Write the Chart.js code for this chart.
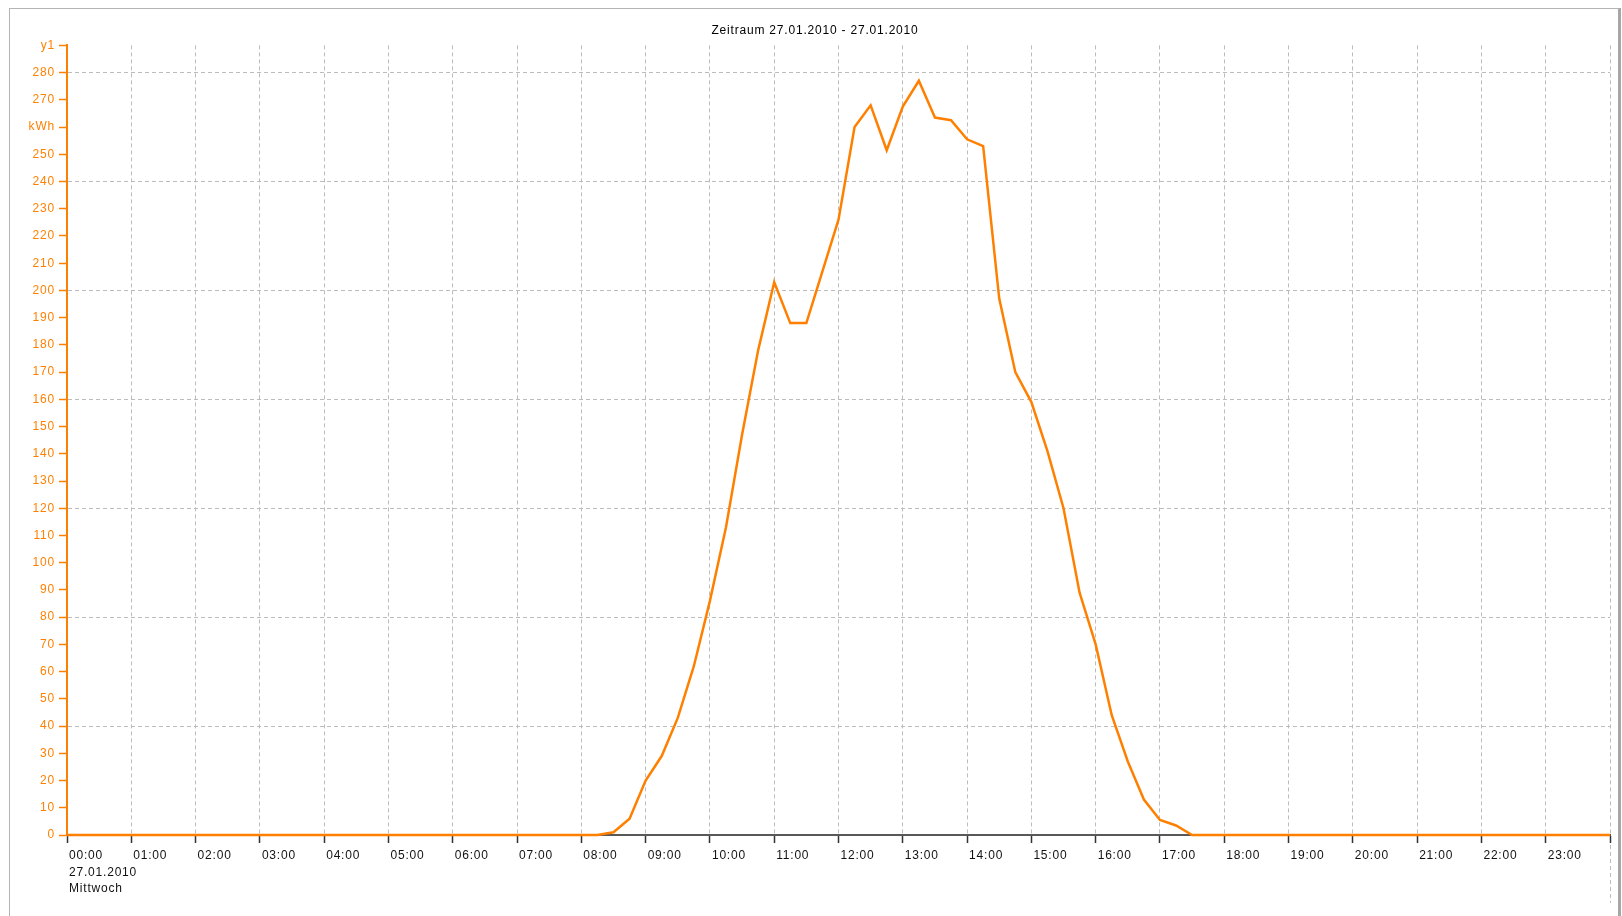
<!DOCTYPE html>
<html>
<head>
<meta charset="utf-8">
<title>Zeitraum 27.01.2010 - 27.01.2010</title>
<script src="https://cdn.jsdelivr.net/npm/chart.js@4.4.1/dist/chart.umd.min.js"></script>
<style>
  html, body { margin: 0; padding: 0; background: #fff; overflow: hidden; }
  #frame {
    position: absolute; left: 9px; top: 8px; width: 1608px; height: 1000px;
    border: 1px solid #b4b4b4; border-right: 3px solid #a6a6a6;
  }
  #chart { position: absolute; left: 0; top: 0; }
</style>
</head>
<body>
<div id="frame"></div>
<canvas id="chart" width="1622" height="916"></canvas>
<script>
// quarter-hour readings, zero outside the production window
const times = [
  '00:00', '08:15', '08:30', '08:45',
  '09:00', '09:15', '09:30', '09:45',
  '10:00', '10:15', '10:30', '10:45',
  '11:00', '11:15', '11:30', '11:45',
  '12:00', '12:15', '12:30', '12:45',
  '13:00', '13:15', '13:30', '13:45',
  '14:00', '14:15', '14:30', '14:45',
  '15:00', '15:15', '15:30', '15:45',
  '16:00', '16:15', '16:30', '16:45',
  '17:00', '17:15', '17:30', '24:00'
];
const energy = [
  0, 0, 1, 6,
  20, 29, 43, 62,
  86, 113, 147, 178,
  203, 188, 188, 207,
  226, 260, 268, 251.5,
  267.5, 277, 263.5, 262.5,
  255.5, 253, 197, 170,
  159, 141, 120, 89,
  70, 44, 27, 13,
  5.5, 3.5, 0, 0
];
const hourLabels = [
  '00:00', '01:00', '02:00', '03:00', '04:00', '05:00', '06:00', '07:00',
  '08:00', '09:00', '10:00', '11:00', '12:00', '13:00', '14:00', '15:00',
  '16:00', '17:00', '18:00', '19:00', '20:00', '21:00', '22:00', '23:00'
];
const dateLines = ['27.01.2010', 'Mittwoch'];
const yTickNames = { 260: 'kWh', 290: 'y1' };
const chartTitle = 'Zeitraum 27.01.2010 - 27.01.2010';

const orange = '#ff8000';
const gridGray = '#bcbcbc';
const dash = [4, 3];

function toHours(t) {
  const [h, m] = t.split(':');
  return Number(h) + Number(m) / 60;
}
const points = times.map((t, i) => ({ x: toHours(t), y: energy[i] }));

Chart.defaults.font.family = '"Liberation Sans", Arial, sans-serif';
Chart.defaults.font.size = 12;

// the old chart engine spaced its letters a bit wider
const spacing = {
  id: 'spacing',
  beforeLayout(chart) { chart.ctx.letterSpacing = '0.8px'; },
  beforeDraw(chart) { chart.ctx.letterSpacing = '0.8px'; }
};

// last hour line runs down past the axis
const endLine = {
  id: 'endLine',
  afterDraw(chart) {
    const { ctx, chartArea, scales } = chart;
    const x = Math.round(scales.x.getPixelForValue(scales.x.max)) + 0.5;
    ctx.save();
    ctx.strokeStyle = gridGray;
    ctx.lineWidth = 1;
    ctx.setLineDash(dash);
    ctx.beginPath();
    ctx.moveTo(x, chartArea.bottom + 10);
    ctx.lineTo(x, chartArea.bottom + 68);
    ctx.stroke();
    ctx.restore();
  }
};

new Chart(document.getElementById('chart'), {
  type: 'line',
  data: {
    datasets: [{
      data: points,
      borderColor: orange,
      borderWidth: 2.5,
      pointRadius: 0,
      tension: 0,
      clip: 4
    }]
  },
  options: {
    responsive: false,
    animation: false,
    events: [],
    layout: { padding: { left: 20, right: 12, top: 0, bottom: 0 } },
    plugins: {
      legend: { display: false },
      tooltip: { enabled: false },
      title: {
        display: true,
        text: chartTitle,
        color: '#000',
        font: { size: 12, weight: 'normal' },
        padding: { top: 23, bottom: 8 }
      }
    },
    scales: {
      x: {
        type: 'linear',
        min: 0,
        max: 24,
        afterFit(scale) { scale.height = 81; },
        border: { display: true, color: '#585858', width: 2, dash: dash },
        grid: {
          color: (c) => (c.tick && c.tick.value === 0 ? 'transparent' : gridGray),
          lineWidth: 1,
          tickColor: '#333',
          tickLength: 8,
          tickWidth: 1.5
        },
        ticks: {
          stepSize: 1,
          autoSkip: false,
          maxRotation: 0,
          align: 'start',
          labelOffset: 2,
          padding: 4,
          color: '#111',
          font: { size: 12, lineHeight: 1.4 },
          callback: (v) => (v === 0 ? [hourLabels[0], ...dateLines] : (hourLabels[v] || ''))
        }
      },
      y: {
        min: 0,
        max: 290,
        afterFit(scale) { scale.width = 47; },
        border: { display: true, color: orange, width: 2, dash: dash },
        grid: {
          color: (c) => (c.tick && c.tick.value % 40 === 0 && c.tick.value > 0 && c.tick.value < 290 ? gridGray : 'transparent'),
          lineWidth: 1,
          tickColor: orange,
          tickLength: 8,
          tickWidth: 1.5
        },
        ticks: {
          stepSize: 10,
          autoSkip: false,
          padding: 4,
          color: orange,
          font: { size: 12 },
          callback: (v) => yTickNames[v] || String(v)
        }
      }
    }
  },
  plugins: [spacing, endLine]
});
</script>
</body>
</html>
